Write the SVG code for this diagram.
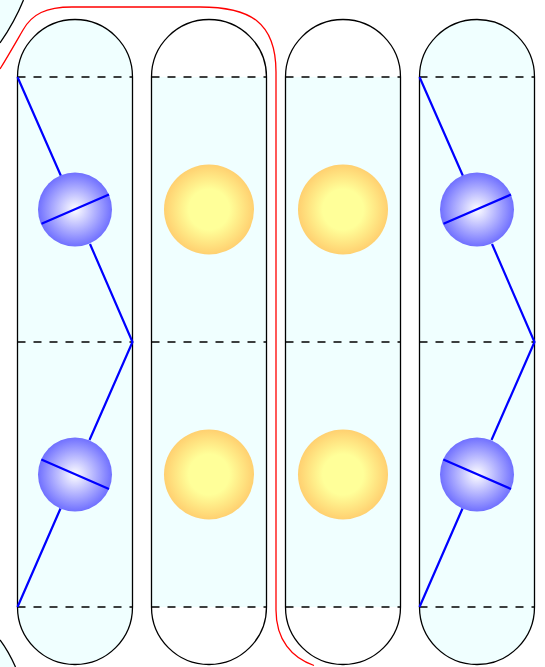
<svg xmlns="http://www.w3.org/2000/svg" width="545" height="667" viewBox="0 0 545 667">
<style>
.out{fill:none;stroke:#000;stroke-width:1.3}
.fill{fill:#f0ffff;stroke:none}
.dash{fill:none;stroke:#000;stroke-width:1.3;stroke-dasharray:8 8}
.blue{fill:none;stroke:#0000ff;stroke-width:2.2}
.red{fill:none;stroke:#ff0000;stroke-width:1.3}
.b{fill:url(#bg)}
.y{fill:url(#yg)}
</style>
<defs>
<radialGradient id="bg"><stop offset="0" stop-color="#ffffff"/><stop offset="1" stop-color="#7070ff"/></radialGradient>
<radialGradient id="yg"><stop offset="0" stop-color="#ffff99"/><stop offset="0.45" stop-color="#ffff99"/><stop offset="1" stop-color="#ffd070"/></radialGradient>
</defs>
<g id="edge-arcs">
<path class="fill" d="M0 0H23.500C17 16 9 30 0 43Z"/>
<path class="out" d="M23.500 0C17 16 9 30 0 43"/>
<path class="fill" d="M0 640C6 648 11 657 15.500 667H0Z"/>
<path class="out" d="M0 640C6 648 11 657 15.500 667"/>
</g>
<g id="column-1">
<path class="fill" d="M17.500 77A57.500 57.500 0 0 1 132.500 77V607A57.500 57.500 0 0 1 17.500 607Z"/>
<rect class="out" x="17.500" y="19.500" width="115" height="645" rx="57.500" ry="57.500"/>
<path class="dash" d="M17.500 77H132.500M17.500 342H132.500M17.500 607H132.500"/>
<path class="blue" d="M17.500 77L61 176M90 244L132.500 342L89.500 440M60.500 508.500L17.500 607"/>
<circle class="b" cx="75" cy="209.500" r="37"/>
<circle class="b" cx="75" cy="474.500" r="37"/>
<path class="blue" d="M41.500 223.800L109 194.500M41.300 459.500L109 489"/>
</g>
<g id="column-2">
<path class="fill" d="M151.500 77H266.500V607H151.500Z"/>
<rect class="out" x="151.500" y="19.500" width="115" height="645" rx="57.500" ry="57.500"/>
<path class="dash" d="M151.500 77H266.500M151.500 342H266.500M151.500 607H266.500"/>
<circle class="y" cx="209" cy="209.500" r="45"/>
<circle class="y" cx="209" cy="474.500" r="45"/>
</g>
<g id="column-3">
<path class="fill" d="M285.500 77H400.500V607H285.500Z"/>
<rect class="out" x="285.500" y="19.500" width="115" height="645" rx="57.500" ry="57.500"/>
<path class="dash" d="M285.500 77H400.500M285.500 342H400.500M285.500 607H400.500"/>
<circle class="y" cx="343" cy="209.500" r="45"/>
<circle class="y" cx="343" cy="474.500" r="45"/>
</g>
<g id="column-4">
<path class="fill" d="M419.500 77A57.500 57.500 0 0 1 534.500 77V607A57.500 57.500 0 0 1 419.500 607Z"/>
<rect class="out" x="419.500" y="19.500" width="115" height="645" rx="57.500" ry="57.500"/>
<path class="dash" d="M419.500 77H534.500M419.500 342H534.500M419.500 607H534.500"/>
<path class="blue" d="M419.500 77L463 176M492 244L534.500 342L491.500 440M462.500 508.500L419.500 607"/>
<circle class="b" cx="477" cy="209.500" r="37"/>
<circle class="b" cx="477" cy="474.500" r="37"/>
<path class="blue" d="M443.500 223.800L511 194.500M443.300 459.500L511 489"/>
</g>
<g id="connectors">
<path class="red" d="M0 69C8 56 16 42 23 30C32 14 46 7 72 7H200C250 7 276 22 276 72V610C276 640 292 658 314 665.500"/>
</g>
</svg>
